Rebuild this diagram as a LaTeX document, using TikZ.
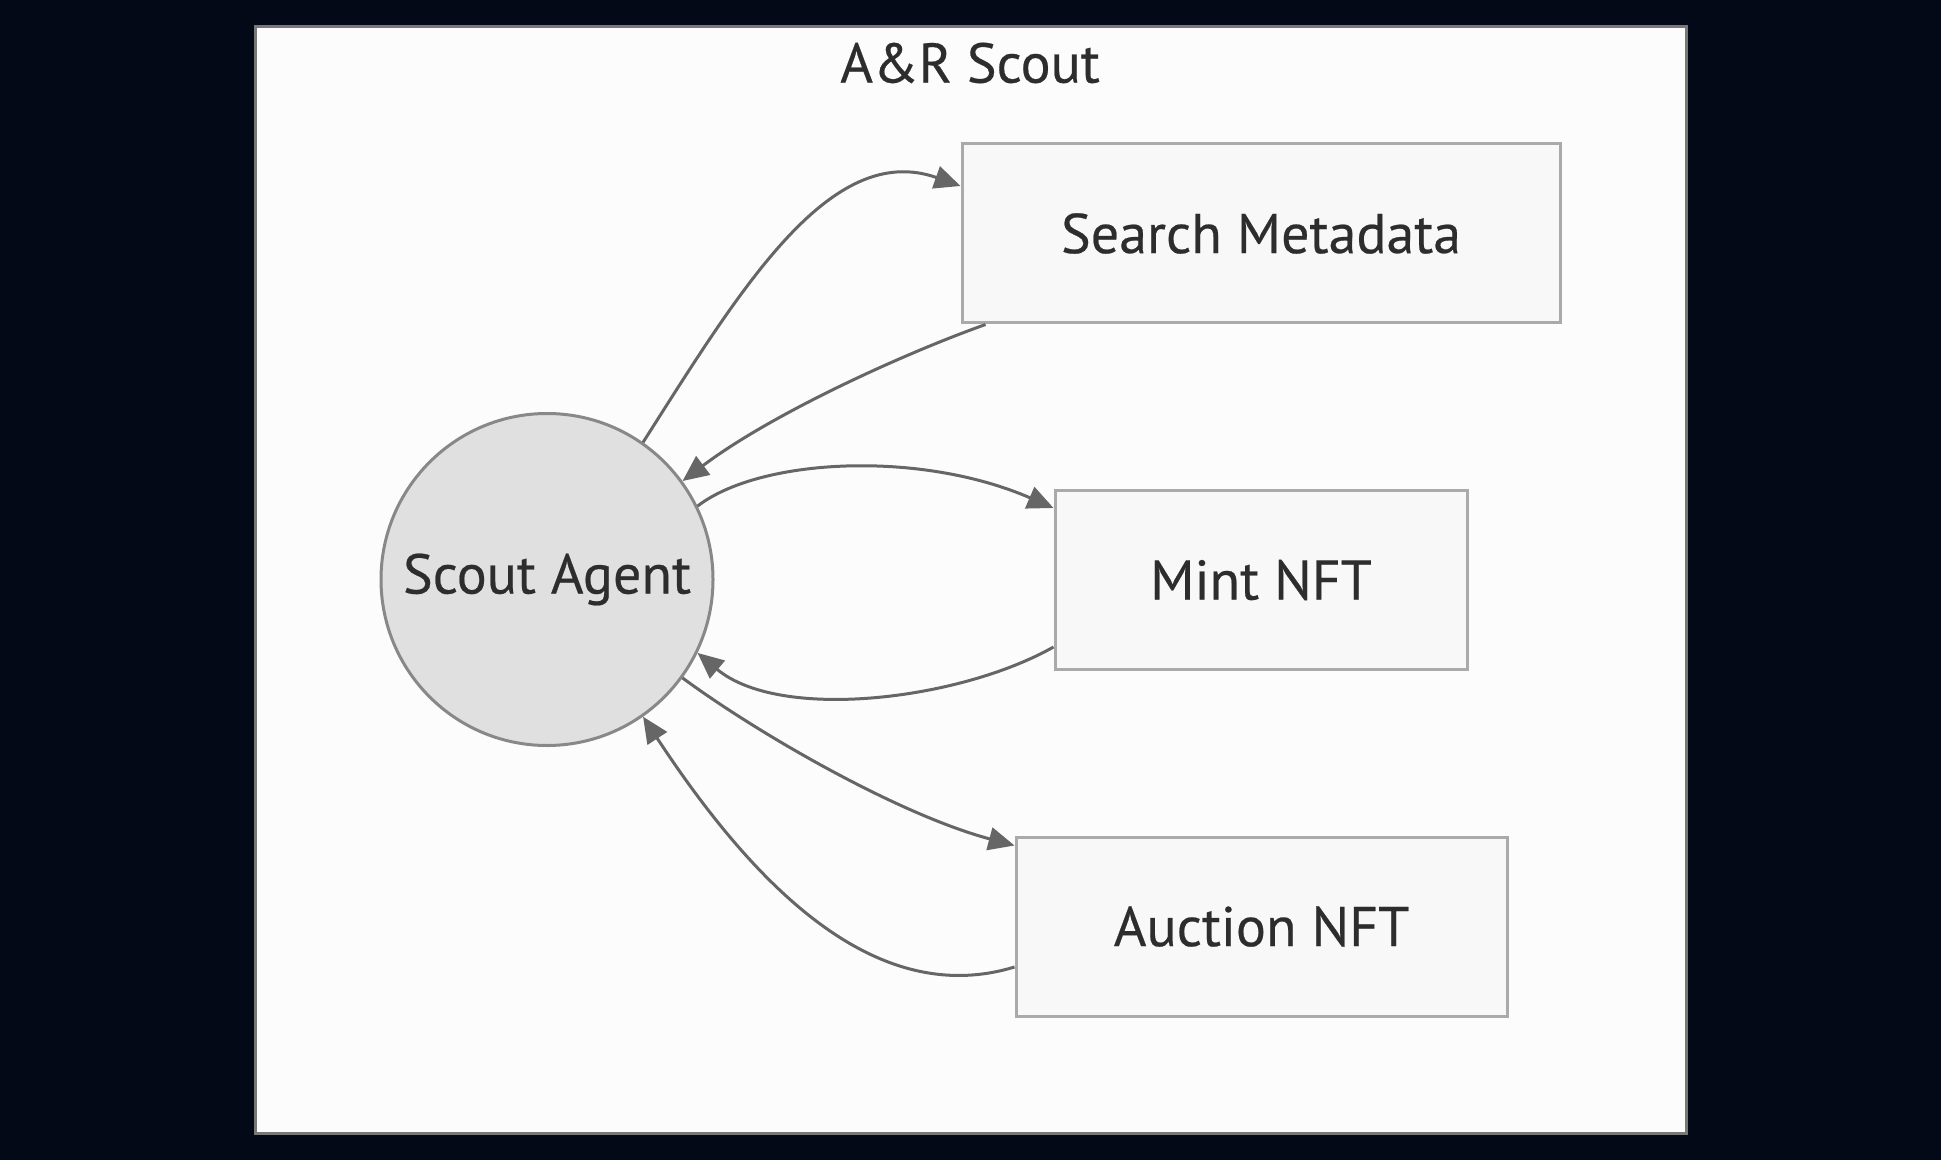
\documentclass[tikz,border=0pt]{standalone}
\usepackage{fontspec}
\setmainfont{PT Sans}
\newfontfamily\lblfont{PT Sans}[FakeBold=0.4]
\usetikzlibrary{arrows.meta,calc}
\definecolor{bgc}{RGB}{3,9,22}
\definecolor{framefill}{RGB}{252,252,252}
\definecolor{framedraw}{RGB}{120,120,120}
\definecolor{boxfill}{RGB}{248,248,248}
\definecolor{boxdraw}{RGB}{170,170,170}
\definecolor{circfill}{RGB}{224,224,224}
\definecolor{circdraw}{RGB}{136,136,136}
\definecolor{edgec}{RGB}{102,102,102}
\definecolor{txt}{RGB}{45,45,45}
\begin{document}
\begin{tikzpicture}[x=0.5pt,y=-0.5pt,
  lbl/.style={text=txt,font=\lblfont\fontsize{28}{32}\selectfont},
  procbox/.style={lbl,draw=boxdraw,fill=boxfill,line width=1.5pt,inner sep=0pt,minimum height=89.5pt},
  agentc/.style={lbl,circle,draw=circdraw,fill=circfill,line width=1.5pt,inner sep=0pt,minimum size=166pt},
  arr/.style={draw=edgec,line width=1.5pt,-{Triangle[length=13pt,width=11.5pt]},fill=none}]
\fill[bgc] (0,0) rectangle (1941,1160);
\useasboundingbox (0,0) rectangle (1941,1160);
\draw[framedraw,fill=framefill,line width=1.5pt] (255,27) rectangle (1686,1133);
\node[lbl] (title) at (970,63) {A\&R Scout};
\node[agentc] (agent) at (547,579.5) {Scout Agent};
\node[procbox,minimum width=299pt] (search) at (1261,233.5) {Search Metadata};
\node[procbox,minimum width=206pt] (mint) at (1261,580) {Mint NFT};
\node[procbox,minimum width=245.5pt] (auction) at (1261.5,926.5) {Auction NFT};
% edges
\draw[arr] (agent.55) .. controls (740,290) and (830,140) .. ($(search.west)+(0,-47.5)$);
\draw[arr] ($(search.south west)+(25,0)$) .. controls (900,355) and (770,415) .. (agent.36);
\draw[arr] (agent.26) .. controls (760,458) and (920,450) .. ($(mint.west)+(0,-72)$);
\draw[arr] ($(mint.west)+(0,67)$) .. controls (960,700) and (780,722) .. (agent.-26);
\draw[arr] (agent.-36) .. controls (760,735) and (900,815) .. ($(auction.west)+(0,-81)$);
\draw[arr] ($(auction.west)+(0,40.5)$) .. controls (880,1008) and (760,895) .. (agent.-55);
\end{tikzpicture}
\end{document}
